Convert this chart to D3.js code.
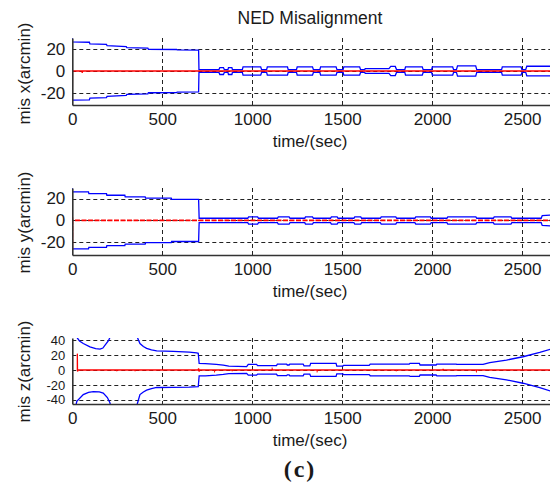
<!DOCTYPE html>
<html><head><meta charset="utf-8">
<script src="https://cdn.jsdelivr.net/npm/d3@7"></script>
<style>
html,body{margin:0;padding:0;background:#fff;}
svg text{font-family:"Liberation Sans",Arial,sans-serif;fill:#1a1a1a;}
</style></head>
<body>
<svg id="chart" width="550" height="488"></svg>
<script>
// ---------- data ----------
const chartTitle = "NED Misalignment";
const xLabel = "time/(sec)";
const panelLabel = "(c)";
const timeTicks = [0, 500, 1000, 1500, 2000, 2500];
const misXTicks = [-20, 0, 20];
const misYTicks = [-20, 0, 20];
const misZTicks = [-40, -20, 0, 20, 40];
const yLabels = ["mis x(arcmin)", "mis y(arcmin)", "mis z(arcmin)"];

// symmetric +/- bound (blue) for mis x, [time, arcmin]
const misXBound = [[0,30.4],[0.5,26.8],[95,26.5],[98,25],[190,24.6],[193,23.3],[300,22.4],[303,21.5],[420,21],[423,20],[580,19.8],[583,19.4],[702,19.2],[704,1.3],[815,1.3],[820,3.2],[840,3.2],[845,1.3],[865,1.3],[868,3.2],[887,3.2],[890,1.3],[945,1.3],[949,3.8],[1047,3.8],[1052,1.3],[1080,1.3],[1084,3.8],[1196,3.8],[1200,1.3],[1246,1.3],[1250,3.8],[1335,3.8],[1340,1.3],[1376,1.3],[1380,3.8],[1466,3.8],[1471,1.3],[1505,1.3],[1509,3.8],[1597,3.8],[1602,1.3],[1625,1.3],[1628,2.2],[1760,2.2],[1770,4.2],[1795,4.2],[1802,1.3],[1848,1.3],[1852,3.8],[1945,3.8],[1950,1.3],[1997,1.3],[2001,3.8],[2114,3.8],[2119,1.3],[2135,1.3],[2141,4.7],[2242,4.7],[2248,1.3],[2386,1.3],[2390,3.8],[2494,3.8],[2499,1.3],[2520,1.3],[2526,4.4],[2660,4.4]];
const misXEst = [[0,4],[0,-29.5],[1,0],[54,0],[55,-1.8],[57,0],[2660,0]];

// symmetric +/- bound (blue) for mis y
const misYBound = [[0,29.6],[0.5,26],[90,26],[92,24.5],[190,24.5],[192,23],[292,23],[294,21.5],[405,21.5],[407,20.3],[550,20.3],[552,19.2],[702,19.2],[705,2.0],[975,2.0],[980,3.3],[1030,3.3],[1035,2.0],[1140,2.0],[1145,3.3],[1205,3.3],[1210,2.0],[1292,2.0],[1296,3.3],[1335,3.3],[1340,2.0],[1435,2.0],[1440,3.3],[1472,3.3],[1477,2.0],[1565,2.0],[1570,3.3],[1603,3.3],[1608,2.0],[1712,2.0],[1717,3.3],[1798,3.3],[1803,2.0],[1904,2.0],[1909,3.3],[1990,3.3],[1995,2.0],[2082,2.0],[2087,3.3],[2243,3.3],[2248,2.0],[2340,2.0],[2345,3.3],[2438,3.3],[2443,2.0],[2606,2.0],[2612,4.5],[2660,5]];
const misYEst = [[0,3],[0,-27],[1,0],[2660,0]];

// mis z bounds (upper / lower), null = gap
const misZUpper = [[20,47],[25,44],[40,39],[61,35.6],[98,31],[130,28.8],[154,28],[170,29.5],[181,33],[200,39],[209,43.5],[213,47],[290,null],[358,47],[363,43],[376,35.6],[395,31.5],[413,29],[440,27],[469,25.8],[561,25],[650,24],[691,23],[700,22.5],[705,9],[740,8.6],[800,7.5],[839,6.5],[870,5.3],[969,4.6],[978,7.6],[1024,7.6],[1030,5.8],[1135,5.8],[1140,8],[1191,8],[1195,6.7],[1205,6.7],[1209,8],[1283,8],[1288,5.5],[1320,5.5],[1325,8.9],[1466,8.9],[1470,5.3],[1503,5.3],[1508,6.2],[1650,6.2],[1656,8],[1873,8],[1877,8.9],[1929,8.9],[1933,6.7],[2022,6.7],[2026,8],[2133,8],[2137,7.6],[2283,7.6],[2320,9.8],[2413,13.3],[2505,17.8],[2598,23.6],[2660,28]];
const misZLower = [[20,-48],[25,-42],[61,-33],[90,-30],[117,-29],[150,-29.5],[172,-31],[195,-37],[209,-44],[213,-48],[290,null],[358,-48],[363,-44],[376,-33],[395,-29.5],[413,-27],[440,-25],[469,-23.5],[561,-23.3],[650,-23],[700,-22.5],[705,-8],[740,-7.8],[800,-7],[839,-6],[870,-5],[969,-4.6],[978,-7],[1024,-7],[1030,-5.5],[1135,-5.5],[1140,-7.6],[1191,-7.6],[1195,-6.5],[1205,-6.5],[1209,-7.8],[1283,-7.8],[1288,-5.5],[1320,-5.5],[1325,-8.6],[1466,-8.6],[1470,-5.3],[1503,-5.3],[1508,-6.2],[1650,-6.2],[1656,-7.8],[1873,-7.8],[1877,-8.6],[1929,-8.6],[1933,-6.7],[2022,-6.7],[2026,-8],[2133,-8],[2137,-7.6],[2283,-7.6],[2320,-9.8],[2413,-13.3],[2505,-17.8],[2598,-23.6],[2660,-28.5]];
const misZEst = [[28,0],[28,22],[29,-2],[33,0],[246,0],[247,-1.5],[249,0],[348,0],[349,-1.5],[351,0],[700,0],[702,2.2],[705,-2.2],[708,0],[790,0],[791,-1.2],[793,0],[888,0],[889,-1.5],[891,0],[1110,0],[1111,1.2],[1113,0],[1360,0],[1361,-1.2],[1363,0],[1800,0],[1801,-1.5],[1803,0],[2060,0],[2061,1.5],[2063,0],[2245,0],[2246,-1.2],[2248,0],[2660,0]];

// ---------- layout ----------
const svg = d3.select("#chart");
const xLeft = 72.3, xRight = 550;
const x = d3.scaleLinear().domain([0, 2655]).range([xLeft, xRight]);

const panels = [
  {top:38, bottom:105, domain:[-31.3,30.4], ticks:misXTicks, tickFont:17, label:yLabels[0], labelY:73.5,
   blue:[misXBound.map(d=>[d[0], d[1]]), misXBound.map(d=>[d[0], -d[1]])], red:misXEst, redDash:null},
  {top:188, bottom:255, domain:[-31.5,29.6], ticks:misYTicks, tickFont:17, label:yLabels[1], labelY:222.5,
   blue:[misYBound.map(d=>[d[0], d[1]]), misYBound.map(d=>[d[0], -d[1]])], red:misYEst, redDash:"5,1.5"},
  {top:338, bottom:404, domain:[-45.7,43], ticks:misZTicks, tickFont:13, label:yLabels[2], labelY:371.5,
   blue:[misZUpper, misZLower], red:misZEst, redDash:null}
];

svg.append("text").attr("x", 310).attr("y", 24).attr("text-anchor","middle")
  .style("font-size","17.5px").text(chartTitle);

panels.forEach((p, i) => {
  const y = d3.scaleLinear().domain(p.domain).range([p.bottom, p.top]);
  const g = svg.append("g");
  const clipId = "clip" + i;
  svg.append("clipPath").attr("id", clipId).append("rect")
    .attr("x", xLeft).attr("y", p.top).attr("width", xRight - xLeft).attr("height", p.bottom - p.top);

  // grid
  const grid = g.append("g").attr("stroke", "#222").attr("stroke-width", 1).attr("stroke-dasharray", "4,3");
  grid.selectAll(".vg").data(timeTicks.filter(t => t > 0)).join("line")
    .attr("x1", d => Math.round(x(d)) + 0.5).attr("x2", d => Math.round(x(d)) + 0.5)
    .attr("y1", p.top).attr("y2", p.bottom);
  grid.selectAll(".hg").data(p.ticks).join("line")
    .attr("x1", xLeft).attr("x2", xRight)
    .attr("y1", d => Math.round(y(d)) + 0.5).attr("y2", d => Math.round(y(d)) + 0.5);

  const line = d3.line().defined(d => d[1] != null).x(d => x(d[0])).y(d => y(d[1]));
  const data = g.append("g").attr("clip-path", `url(#${clipId})`);
  p.blue.forEach(arr => {
    data.append("path").datum(arr).attr("d", line)
      .attr("fill", "none").attr("stroke", "#0000ff").attr("stroke-width", 1.3);
  });
  const rp = data.append("path").datum(p.red).attr("d", line)
    .attr("fill", "none").attr("stroke", "#ff0000").attr("stroke-width", p.redDash ? 1.8 : 1.3);
  if (p.redDash) rp.attr("stroke-dasharray", p.redDash);

  // axes
  const xa = g.append("g").attr("transform", `translate(0,${p.bottom})`)
    .call(d3.axisBottom(x).tickValues(timeTicks).tickSize(0).tickSizeOuter(0).tickPadding(8).tickFormat(d3.format("d")));
  const ya = g.append("g").attr("transform", `translate(${xLeft},0)`)
    .call(d3.axisLeft(y).tickValues(p.ticks).tickSize(0).tickSizeOuter(0).tickPadding(7).tickFormat(d3.format("d")));
  [xa, ya].forEach(a => {
    a.select(".domain").attr("stroke", "#333").attr("stroke-width", 1.6);
    a.selectAll("text").style("font-size", "17px").attr("fill", "#1a1a1a")
      .style("font-family", '"Liberation Sans",Arial,sans-serif');
  });
  ya.selectAll("text").style("font-size", p.tickFont + "px").text(d => d < 0 ? "-" + Math.abs(d) : d);

  // labels
  g.append("text").attr("x", 310).attr("y", p.bottom + 42).attr("text-anchor","middle")
    .style("font-size","17px").text(xLabel);
  g.append("text").attr("transform", `translate(30,${p.labelY}) rotate(-90)`).attr("text-anchor","middle")
    .style("font-size","17px").text(p.label);
});

svg.append("text").attr("x", 300).attr("y", 477).attr("text-anchor","middle")
  .style("font-family",'"Liberation Serif","Times New Roman",serif').style("font-weight","bold")
  .style("font-size","24px").style("letter-spacing","2px").text(panelLabel);
</script>
</body></html>
